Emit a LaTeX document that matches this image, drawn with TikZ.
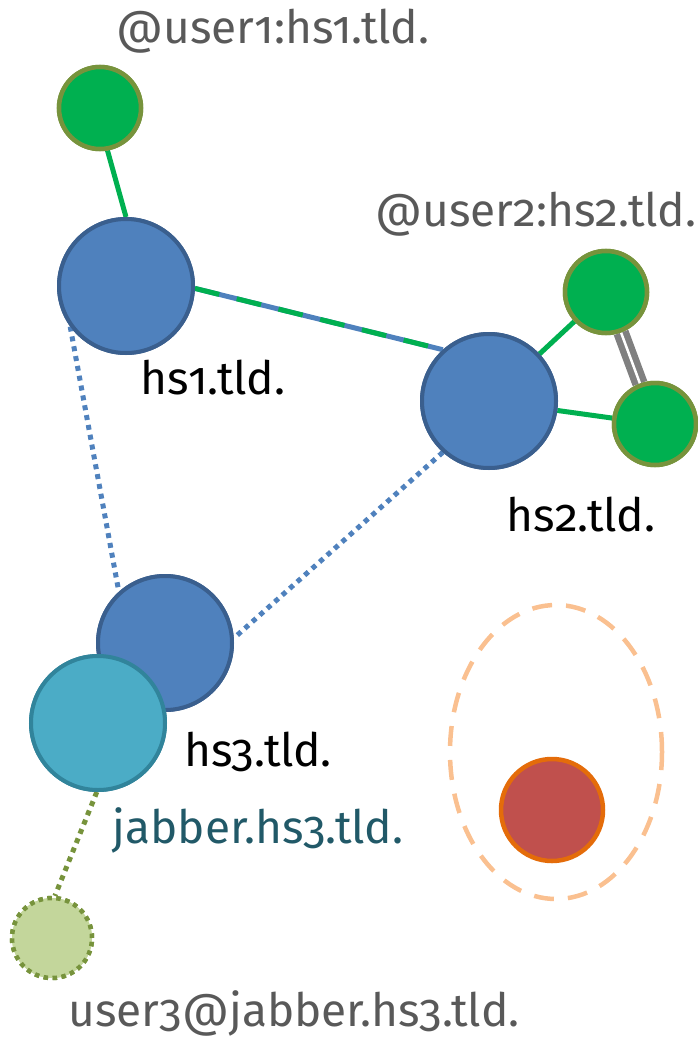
\documentclass[tikz,border=0pt]{standalone}
\usepackage{fontspec}
\setmainfont{Fira Sans}[Numbers=OldStyle]
\usetikzlibrary{shapes.geometric}
\definecolor{hsblue}{HTML}{4F81BD}
\definecolor{hsborder}{HTML}{3A5F8E}
\definecolor{ugreen}{HTML}{00B050}
\definecolor{olive}{HTML}{77933C}
\definecolor{jcyan}{HTML}{4BACC6}
\definecolor{jborder}{HTML}{31849B}
\definecolor{lgreen}{HTML}{C3D69B}
\definecolor{rfill}{HTML}{C0504D}
\definecolor{rborder}{HTML}{E46C0A}
\definecolor{peach}{HTML}{FAC090}
\definecolor{txgray}{HTML}{595959}
\definecolor{txteal}{HTML}{215968}
\tikzset{
  server/.style={circle, fill=hsblue, draw=hsborder, line width=4pt, minimum size=134pt, inner sep=0pt},
  user/.style={circle, fill=ugreen, draw=olive, line width=4.5pt, minimum size=82pt, inner sep=0pt},
  jabnode/.style={circle, fill=jcyan, draw=jborder, line width=4pt, minimum size=134pt, inner sep=0pt},
  extuser/.style={circle, fill=lgreen, draw=olive, line width=4.5pt, dash pattern=on 4.5pt off 4.5pt, minimum size=80pt, inner sep=0pt},
  lbl/.style={font=\fontsize{46}{50}\selectfont, inner sep=0pt},
  link/.style={ugreen, line width=5pt},
  dotlink/.style={hsblue, line width=5pt, dash pattern=on 5pt off 5pt},
}
\begin{document}
\begin{tikzpicture}[x=1pt,y=-1pt]
\useasboundingbox (0,0) rectangle (698,1038);
% group ellipse
\node[ellipse, draw=peach, line width=4.5pt, dash pattern=on 20pt off 14pt, minimum width=212pt, minimum height=294pt, inner sep=0pt] (grp) at (556,752) {};
% nodes
\node[user] (u1) at (100,108) {};
\node[server] (hs1) at (126,286) {};
\node[server] (hs2) at (489,401) {};
\node[user] (u2a) at (606,292) {};
\node[user] (u2b) at (655,424) {};
\node[server] (hs3) at (165,643) {};
\node[jabnode] (jab) at (98,723) {};
\node[extuser] (u3) at (52,938) {};
\node[circle, fill=rfill, draw=rborder, line width=4.5pt, minimum size=102pt, inner sep=0pt] (red) at (552,810) {};
% edges
\draw[link] (u1.-80) -- (hs1.90);
\draw[hsblue, line width=5pt] (hs1.-2) -- (hs2.132);
\draw[ugreen, line width=5pt, dash pattern=on 25pt off 18pt] (hs1.-2) -- (hs2.132);
\draw[link] (hs2) -- (u2a);
\draw[link] (hs2) -- (u2b);
\draw[gray, line width=6.5pt, double=white, double distance=2.5pt] (u2a) -- (u2b);
\draw[dotlink] (hs1.216) -- (hs3.132);
\draw[dotlink] (hs2.228) -- (hs3.4);
\draw[olive, line width=5pt, dash pattern=on 5pt off 5pt] (jab.-91) -- (u3.86);
% nodes again on top of connectors
\node[user] at (u1) {};
\node[server] at (hs1) {};
\node[server] at (hs2) {};
\node[user] at (u2a) {};
\node[user] at (u2b) {};
\node[server] at (hs3) {};
\node[jabnode] at (jab) {};
\node[extuser] at (u3) {};
% labels
\node[lbl, text=txgray] (l1) at (273,31) {@user1:hs1.tld.};
\node[lbl, text=txgray] (l2) at (536,214) {@user2:hs2.tld.};
\node[lbl] (lh1) at (213,378) {hs1.tld.};
\node[lbl] (lh2) at (581,515) {hs2.tld.};
\node[lbl] (lh3) at (258,752) {hs3.tld.};
\node[lbl, text=txteal] (lj) at (258,830) {jabber.hs3.tld.};
\node[lbl, text=txgray] (lu3) at (294,1013) {user3@jabber.hs3.tld.};
\end{tikzpicture}
\end{document}
